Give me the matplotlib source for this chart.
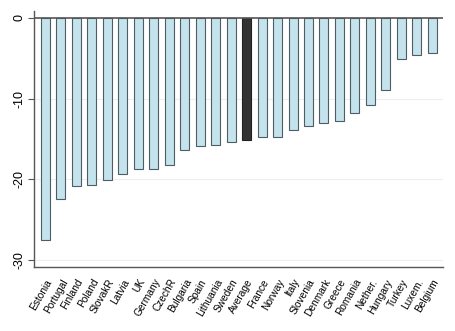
import matplotlib
matplotlib.use("Agg")
import matplotlib.pyplot as plt

countries = ["Estonia", "Portugal", "Finland", "Poland", "SlovakR", "Latvia", "UK",
             "Germany", "CzechR", "Bulgaria", "Spain", "Lithuania", "Sweden", "Average",
             "France", "Norway", "Italy", "Slovenia", "Denmark", "Greece", "Romania",
             "Nether.", "Hungary", "Turkey", "Luxem.", "Belgium"]
values = [-27.5, -22.4, -20.8, -20.7, -20.1, -19.3, -18.7, -18.7, -18.2, -16.4,
          -15.9, -15.8, -15.4, -15.1, -14.8, -14.7, -13.9, -13.4, -13.0, -12.8,
          -11.75, -10.75, -8.9, -5.05, -4.6, -4.4]
yticks = [0, -10, -20, -30]
highlight = "Average"

plt.rcParams['font.family'] = ['Liberation Sans', 'DejaVu Sans']

fig = plt.figure(figsize=(4.56, 3.31), dpi=100)
ax = fig.add_axes([0.074, 0.192, 0.898, 0.776])

colors = ["#333333" if c == highlight else "#c4e3ec" for c in countries]
edges = ["#222222" if c == highlight else "#4d5d63" for c in countries]
x = list(range(len(countries)))
ax.bar(x, values, width=0.58, color=colors, edgecolor=edges, linewidth=0.8, zorder=3)

ax.axhline(0, color="#555555", linewidth=1.2, zorder=4)
for t in yticks[1:]:
    ax.axhline(t, color="#eeeeee", linewidth=0.8, zorder=1)

ax.set_xlim(-0.76, 25.71)
ax.set_ylim(-30.9, 0.9)
ax.set_yticks(yticks)
ax.set_yticklabels([str(t) for t in yticks], rotation=90, va="center", fontsize=9)
ax.set_xticks(x)
ax.set_xticklabels(countries, rotation=60, ha="right", rotation_mode="anchor", fontsize=7.3)
ax.tick_params(axis="x", length=0, pad=7)
ax.tick_params(axis="y", length=4, width=0.8, color="#555555", pad=2)

for s in ["top", "right"]:
    ax.spines[s].set_visible(False)
for s in ["left", "bottom"]:
    ax.spines[s].set_color("#555555")
    ax.spines[s].set_linewidth(1.0)

fig.savefig("out.png", dpi=100)
